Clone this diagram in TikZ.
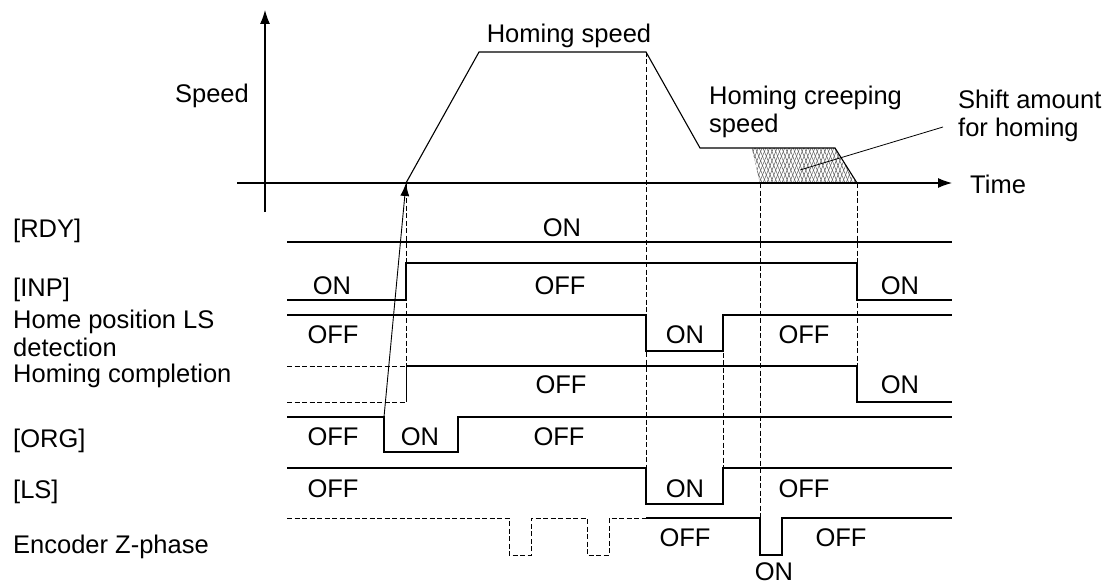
\documentclass[tikz,border=0pt]{standalone}
\usepackage{fontspec}
\setmainfont{Liberation Sans}
\usetikzlibrary{arrows.meta, patterns.meta}

\begin{document}
\begin{tikzpicture}[x=1pt, y=-1pt,
      font=\fontsize{25.5}{28}\selectfont,
      sig/.style={line width=1.1pt},
      guide/.style={line width=0.9pt, dash pattern=on 5pt off 2.5pt},
      axis/.style={line width=1.1pt, -{Latex[length=14pt, width=10pt]}},
      ptr/.style={line width=0.9pt, -{Latex[length=13pt, width=9pt]}},
      lbl/.style={inner sep=0pt, anchor=base west},
      tag/.style={inner sep=0pt, align=left, anchor=north west},
      state/.style={inner sep=0pt, anchor=base}]
    \useasboundingbox (0,0) rectangle (1110,586);

    \coordinate (vstart) at (406,183);
    \coordinate (orgfall) at (384,417);
    \coordinate (hatchpt) at (800,170);
    \coordinate (leaderend) at (943,127);

    \fill[pattern={Lines[angle=68, distance=3.5pt, line width=0.5pt]}, pattern color=black!65]
      (752,148) -- (835,148) -- (857,183) -- (760,183) -- cycle;
    \fill[pattern={Lines[angle=112, distance=3.5pt, line width=0.5pt]}, pattern color=black!65]
      (752,148) -- (835,148) -- (857,183) -- (760,183) -- cycle;
    \draw[densely dotted, black!70] (752,148) -- (760,183);

    \draw[guide] (406,183) -- (406,402);
    \draw[guide] (646,52) -- (646,468);
    \draw[guide] (723,315) -- (723,468);
    \draw[guide] (760,183) -- (760,518);
    \draw[guide] (857,183) -- (857,402);

    \draw[axis] (265,212) -- (265,10);
    \draw[axis] (237,183) -- (952,183);
    \draw[sig] (vstart) -- (479,52) -- (646,52) -- (700,148) -- (835,148) -- (857,183);
    \draw[ptr] (orgfall) -- (vstart);
    \draw[line width=0.8pt] (hatchpt) -- (leaderend);

    \node[lbl, anchor=base east] (speed) at (249,102) {Speed};
    \node[lbl, anchor=base] (homingspeed) at (569,42) {Homing speed};
    \node[tag] (creep) at (709,86) {Homing creeping\\speed};
    \node[tag] (shift) at (958,90) {Shift amount\\for homing};
    \node[lbl] (time) at (970,193) {Time};

    \node[lbl] (rdy) at (13,237) {[RDY]};
    \node[lbl] (inp) at (13,296) {[INP]};
    \node[tag] (homels) at (13,310) {Home position LS\\detection};
    \node[lbl] (homedone) at (13,382) {Homing completion};
    \node[lbl] (org) at (13,447) {[ORG]};
    \node[lbl] (ls) at (13,498) {[LS]};
    \node[lbl] (encz) at (13,553) {Encoder Z-phase};

    \draw[sig] (287,242) -- (952,242);
    \draw[sig] (287,300) -- (406,300) -- (406,263) -- (857,263) -- (857,300) -- (952,300);
    \draw[sig] (287,315) -- (646,315) -- (646,351) -- (723,351) -- (723,315) -- (952,315);
    \draw[guide] (287,366) -- (406,366);
    \draw[guide] (287,402) -- (406,402) -- (406,366);
    \draw[sig] (406,366) -- (857,366) -- (857,402) -- (952,402);
    \draw[sig] (287,417) -- (384,417) -- (384,452) -- (458,452) -- (458,417) -- (952,417);
    \draw[sig] (287,468) -- (646,468) -- (646,504) -- (723,504) -- (723,468) -- (952,468);
    \draw[guide] (287,518) -- (509,518) -- (509,555) -- (531,555) -- (531,518) -- (587,518)
      -- (587,555) -- (609,555) -- (609,518) -- (646,518);
    \draw[sig] (646,518) -- (760,518) -- (760,555) -- (782,555) -- (782,518) -- (952,518);

    \foreach \x/\y/\t [count=\i] in {562/236/ON,
        332/294/ON, 560/294/OFF, 900/294/ON,
        333/343/OFF, 685/343/ON, 804/343/OFF,
        561/393/OFF, 900/393/ON,
        333/445/OFF, 420/445/ON, 559/445/OFF,
        333/497/OFF, 685/497/ON, 804/497/OFF,
        685/546/OFF, 841/546/OFF, 774/580/ON}
      \node[state] (st\i) at (\x,\y) {\t};
  \end{tikzpicture}
\end{document}
